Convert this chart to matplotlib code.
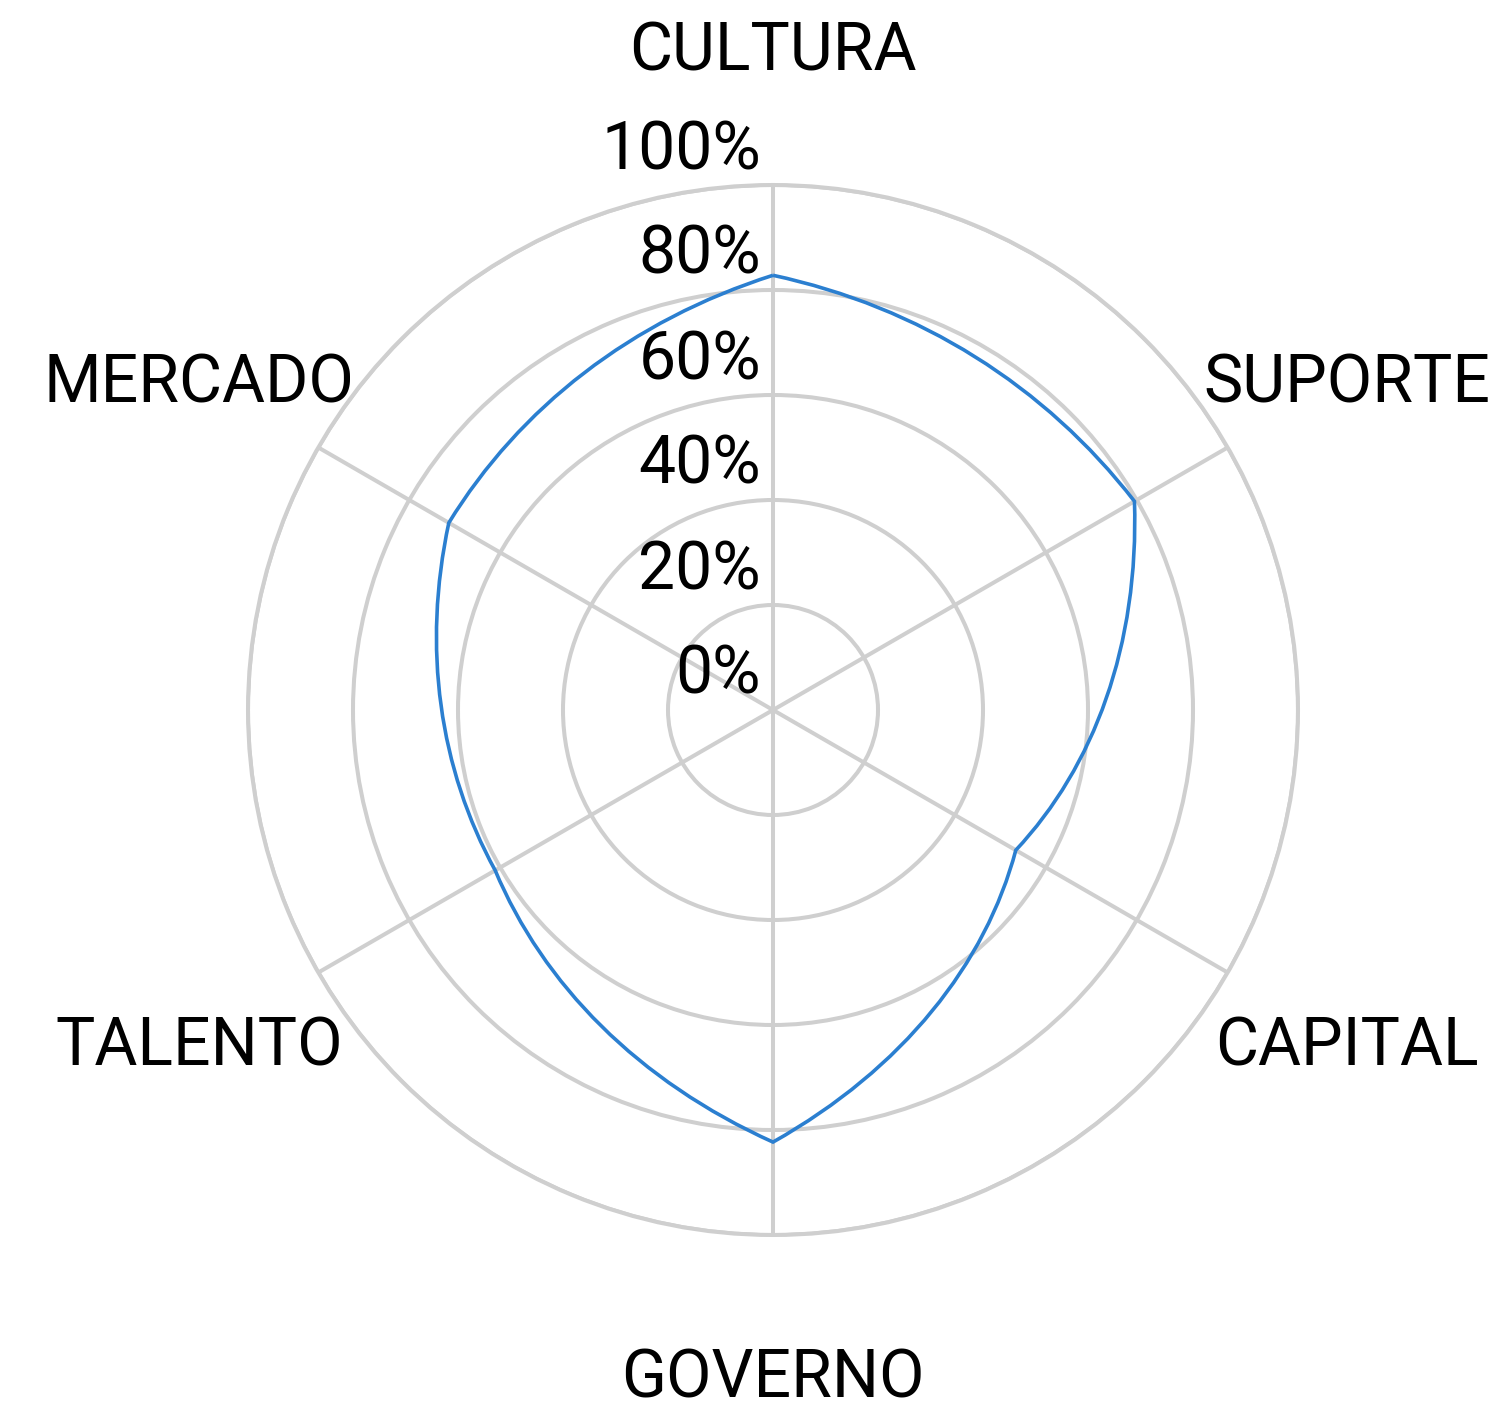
import numpy as np
import matplotlib
matplotlib.use("Agg")
import matplotlib.pyplot as plt
import matplotlib.transforms as mtransforms
from matplotlib.path import Path
from matplotlib.patches import PathPatch

categories = ["CULTURA", "SUPORTE", "CAPITAL", "GOVERNO", "TALENTO", "MERCADO"]
values = [82.8, 79.5, 53.4, 82.3, 61.1, 71.3]
rticks = [0, 20, 40, 60, 80, 100]
rtick_labels = ["0%", "20%", "40%", "60%", "80%", "100%"]

plt.rcParams['font.family'] = ['Roboto', 'DejaVu Sans']

W, H = 1496, 1401
fig = plt.figure(figsize=(W / 100, H / 100), dpi=100)
cx, cy, R = 773, 710, 525
ax = fig.add_axes([(cx - R) / W, (H - cy - R) / H, 2 * R / W, 2 * R / H], projection='polar')
ax.set_theta_offset(np.pi / 2)
ax.set_theta_direction(-1)
ax.set_ylim(0, 100)

grid_color = '#cfcfcf'
n = len(categories)
angles = np.arange(n) * 2 * np.pi / n
ax.set_xticks(angles)
ax.set_xticklabels([])
ax.set_yticks(rticks[1:])
ax.set_yticklabels([])
ax.grid(True, color=grid_color, linewidth=2.9)
ax.spines['polar'].set_color(grid_color)
ax.spines['polar'].set_linewidth(2.9)
ax.tick_params(length=0)


def curved_radar_path(theta, r):
    """Cubic Bezier per segment, with control handles placed in (theta, r) data space
    at 1/3 and 2/3 of each segment, so the polar transform bends the line outward."""
    th = np.append(theta, 2 * np.pi)
    rr = np.append(r, r[0])
    verts = [(th[0], rr[0])]
    codes = [Path.MOVETO]
    for i in range(len(th) - 1):
        for f in (1 / 3, 2 / 3, 1.0):
            verts.append((th[i] + f * (th[i + 1] - th[i]), rr[i] + f * (rr[i + 1] - rr[i])))
            codes.append(Path.CURVE4)
    return Path(verts, codes)


patch = PathPatch(curved_radar_path(angles, np.asarray(values, float)), facecolor='none',
                  edgecolor='#2b7fd0', linewidth=2.6, zorder=5, joinstyle='miter')
ax.add_patch(patch)

fs = 47.5
lab_off = mtransforms.offset_copy(ax.transData, fig=fig, x=0, y=-6, units='dots')
for a, lab in zip(angles, categories):
    ax.text(a, 126.3, lab, transform=lab_off, ha='center', va='center', fontsize=fs,
            color='black', clip_on=False)

off = mtransforms.offset_copy(ax.transData, fig=fig, x=-12, y=16, units='dots')
for v, lab in zip(rticks, rtick_labels):
    ax.text(0, v, lab, transform=off, ha='right', va='baseline', fontsize=fs, color='black',
            clip_on=False, zorder=6)

fig.savefig("out.png", dpi=100, facecolor='white')
